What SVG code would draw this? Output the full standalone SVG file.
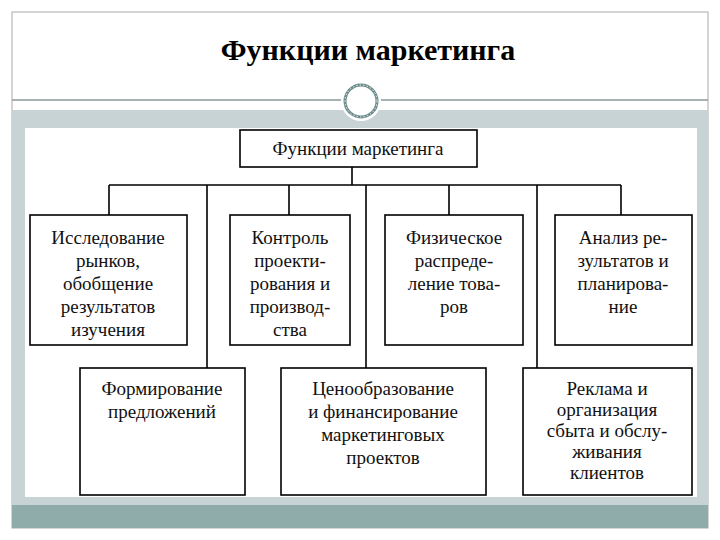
<svg xmlns="http://www.w3.org/2000/svg" width="720" height="540" viewBox="0 0 720 540">
<style>
.b{fill:#fff;stroke:#000;stroke-width:1.6}
.t{font-family:"Liberation Serif","Times New Roman","DejaVu Serif",serif;font-size:19px;fill:#111;text-anchor:middle}
.c{stroke:#000;stroke-width:1.6;fill:none}
</style>
<rect width="720" height="540" fill="#fff"/>
<rect x="12" y="12" width="696" height="516" fill="#fff" stroke="#aaa"/>
<line x1="12" y1="100" x2="708" y2="100" stroke="#8a9a9a" stroke-width="1.5"/>
<rect x="12" y="110" width="696" height="395" fill="#c8d3d6"/>
<rect x="12" y="505" width="696" height="23" fill="#8fabaa"/>
<rect x="25" y="128" width="672" height="369" fill="#fff"/>
<circle cx="361" cy="101" r="20" fill="#fff"/>
<circle cx="361" cy="101" r="16" fill="none" stroke="#6b8a8a" stroke-width="3"/>
<circle cx="361" cy="101" r="16" fill="none" stroke="#fff" stroke-width="1" stroke-dasharray="1.5 2"/>
<text x="368" y="60" style="font-family:'Liberation Serif','Times New Roman','DejaVu Serif',serif" font-size="30" font-weight="bold" text-anchor="middle">Функции маркетинга</text>
<g id="connectors" class="c">
<path d="M352 167V185M109 185H621M109 185V215M207 185V368M289 185V215M366 185V368M449 185V215M537 185V368M621 185V215"/>
</g>
<g id="n0"><rect class="b" x="240" y="130" width="237" height="37"/><text class="t" x="358" y="155">Функции маркетинга</text></g>
<g id="n1"><rect class="b" x="30" y="215" width="157" height="130"/><text class="t" x="108" y="244">Исследование<tspan x="108" dy="23">рынков,</tspan><tspan x="108" dy="23">обобщение</tspan><tspan x="108" dy="23">результатов</tspan><tspan x="108" dy="23">изучения</tspan></text></g>
<g id="n2"><rect class="b" x="230" y="215" width="120" height="130"/><text class="t" x="290" y="244">Контроль<tspan x="290" dy="23">проекти-</tspan><tspan x="290" dy="23">рования и</tspan><tspan x="290" dy="23">производ-</tspan><tspan x="290" dy="23">ства</tspan></text></g>
<g id="n3"><rect class="b" x="385" y="215" width="138" height="130"/><text class="t" x="454" y="244">Физическое<tspan x="454" dy="23">распреде-</tspan><tspan x="454" dy="23">ление това-</tspan><tspan x="454" dy="23">ров</tspan></text></g>
<g id="n4"><rect class="b" x="555" y="215" width="137" height="130"/><text class="t" x="623" y="244">Анализ ре-<tspan x="623" dy="23">зультатов и</tspan><tspan x="623" dy="23">планирова-</tspan><tspan x="623" dy="23">ние</tspan></text></g>
<g id="n5"><rect class="b" x="80" y="368" width="165" height="127"/><text class="t" x="162" y="395">Формирование<tspan x="162" dy="23">предложений</tspan></text></g>
<g id="n6"><rect class="b" x="281" y="368" width="205" height="127"/><text class="t" x="383" y="395">Ценообразование<tspan x="383" dy="23">и финансирование</tspan><tspan x="383" dy="23">маркетинговых</tspan><tspan x="383" dy="23">проектов</tspan></text></g>
<g id="n7"><rect class="b" x="523" y="368" width="169" height="127"/><text class="t" x="607" y="395">Реклама и<tspan x="607" dy="21">организация</tspan><tspan x="607" dy="21">сбыта и обслу-</tspan><tspan x="607" dy="21">живания</tspan><tspan x="607" dy="21">клиентов</tspan></text></g>
</svg>
